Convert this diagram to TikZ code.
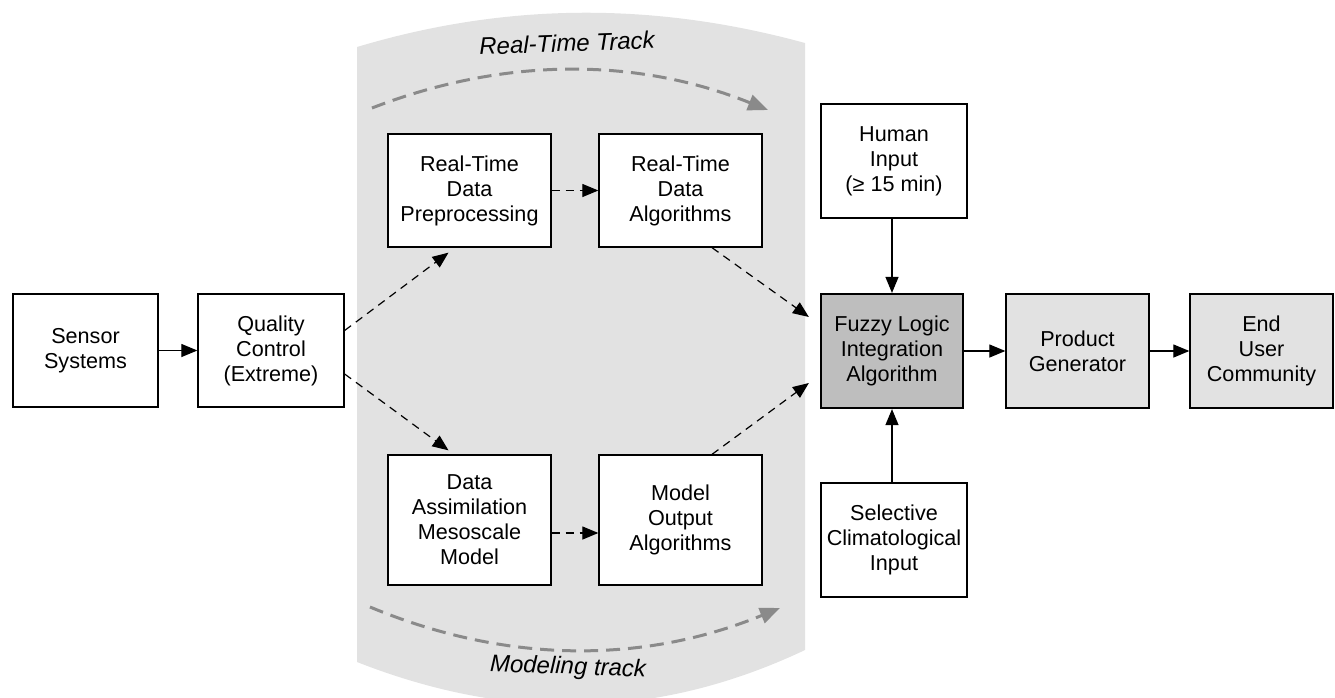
\documentclass[tikz,border=0pt]{standalone}
\usepackage{fontspec}
\setmainfont{Liberation Sans}
\usepackage{tikz}
\usetikzlibrary{arrows.meta, positioning}

\definecolor{trackgray}{HTML}{E2E2E2}
\definecolor{fuzzygray}{HTML}{BEBEBE}
\definecolor{arcgray}{HTML}{8A8A8A}

\tikzset{
 block/.style={draw, rectangle, fill=white, line width=0.65pt, align=center,
   inner sep=0pt, minimum width=72.5pt, minimum height=56.5pt,
   font=\fontsize{10.8}{12.5}\selectfont},
 link/.style={line width=0.6pt, -{Triangle[length=8pt, width=6.5pt]}},
 dlink/.style={link, dash pattern=on 4pt off 3pt},
 trackarc/.style={line width=1.5pt, arcgray, dash pattern=on 7pt off 4pt,
   -{Triangle[length=10pt, width=8pt]}},
 tracklabel/.style={font=\fontsize{12}{14}\selectfont\itshape}
}

\begin{document}
\begin{tikzpicture}[x=0.5pt, y=-0.5pt]
 \clip (0,0) rectangle (1335,697);
 % shaded band for the two tracks
 \fill[trackgray] (357,47) .. controls (507,2) and (655,2) .. (805,43)
   -- (805,650) .. controls (655,721) and (507,721) .. (357,662) -- cycle;
 \draw[trackarc] (372,108) .. controls (504,57) and (636,57) .. (768,110);
 \draw[trackarc] (370,607) .. controls (507,664) and (643,664) .. (780,608);
 \node[tracklabel, rotate=2] (rtlabel) at (567,43) {Real-Time Track};
 \node[tracklabel, rotate=-2] (modlabel) at (568,668) {Modeling track};

 \node[block] (sensor) at (85.5,350.5) {Sensor\\Systems};
 \node[block, minimum width=73pt] (qc) at (271,350.5) {Quality\\Control\\(Extreme)};
 \node[block, minimum width=81.5pt] (rtpre) at (469.5,190.5) {Real-Time\\Data\\Preprocessing};
 \node[block, minimum width=81.5pt] (rtalg) at (680.5,190.5) {Real-Time\\Data\\Algorithms};
 \node[block, minimum width=81.5pt, minimum height=65pt] (assim) at (469.5,520) {Data\\Assimilation\\Mesoscale\\Model};
 \node[block, minimum width=81.5pt, minimum height=65pt] (modalg) at (680.5,520) {Model\\Output\\Algorithms};
 \node[block, fill=fuzzygray, line width=1.1pt, minimum width=71pt, minimum height=57pt] (fuzzy) at (892,351) {Fuzzy Logic\\Integration\\Algorithm};
 \node[block, fill=trackgray, minimum width=71.5pt, minimum height=57pt] (prodgen) at (1077.5,351) {Product\\Generator};
 \node[block, fill=trackgray, minimum width=71.5pt, minimum height=57pt] (enduser) at (1261.5,351) {End\\User\\Community};
 \node[block, minimum width=73pt, minimum height=57pt] (human) at (894,161) {Human\\Input\\(≥ 15 min)};
 \node[block, minimum width=73pt, minimum height=57pt] (climo) at (894,540) {Selective\\Climatological\\Input};

 \draw[link] (sensor) -- (qc);
 \draw[dlink] ([yshift=10pt]qc.east) -- ([xshift=-10.5pt, yshift=-2.5pt]rtpre.south);
 \draw[dlink] ([yshift=-11.75pt]qc.east) -- ([xshift=-10.5pt, yshift=2pt]assim.north);
 \draw[dlink] (rtpre) -- (rtalg);
 \draw[dlink] ([yshift=-6.5pt]assim.east) -- ([yshift=-6.5pt]modalg.west);
 \draw[dlink] ([xshift=15.75pt]rtalg.south) -- ([xshift=-5.5pt, yshift=17pt]fuzzy.west);
 \draw[dlink] ([xshift=15.75pt]modalg.north) -- ([xshift=-5.5pt, yshift=-16pt]fuzzy.west);
 \draw[link] (human.south -| fuzzy.north) -- (fuzzy.north);
 \draw[link] (climo.north -| fuzzy.south) -- (fuzzy.south);
 \draw[link] (fuzzy) -- (prodgen);
 \draw[link] (prodgen) -- (enduser);
\end{tikzpicture}
\end{document}
